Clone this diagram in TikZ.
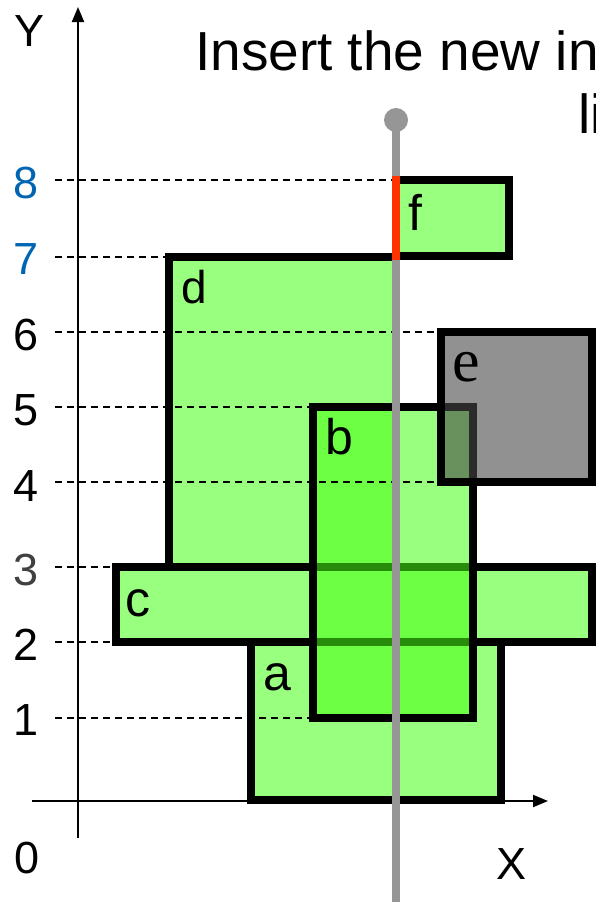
\documentclass[tikz,border=0pt]{standalone}
\usepackage{fontspec}
\setmainfont{Liberation Sans}
\newfontfamily\tagserif{Liberation Serif}
\usepackage{tikz}
\usetikzlibrary{positioning,calc,arrows.meta}
\usepackage{xcolor}
\definecolor{boxgreen}{RGB}{70,255,20}
\definecolor{boxgray}{RGB}{72,72,72}
\definecolor{scangray}{RGB}{150,150,150}
\definecolor{scanred}{RGB}{255,51,0}
\definecolor{tickblue}{RGB}{0,102,179}
\definecolor{tickdark}{RGB}{64,64,64}

\begin{document}
\begin{tikzpicture}[x=1pt, y=-1pt,
  region/.style={draw=black, line width=8pt, fill=boxgreen, fill opacity=0.55, draw opacity=1, outer sep=0pt, inner sep=0pt},
  shaded/.style={region, fill=boxgray, fill opacity=0.6},
  tag/.style={inner sep=0pt, font=\fontsize{50}{60}\selectfont},
  tick/.style={inner sep=0pt, font=\fontsize{45}{54}\selectfont},
  guide/.style={black, line width=2pt, dash pattern=on 7pt off 5pt},
  axis/.style={black, line width=2pt, -{Triangle[length=15pt,width=12pt]}},
  scan/.style={scangray, line width=8pt}]
\useasboundingbox (0,0) rectangle (596,902);
\clip (0,0) rectangle (596,902);

% Title
\node[anchor=base west, inner sep=0pt, font=\fontsize{55}{66}\selectfont] (title) at (195,70) {Insert the new in};
\node[anchor=base west, inner sep=0pt, font=\fontsize{55}{66}\selectfont] (title2) at (578,133) {li};

% Axes
\coordinate (ybot) at (78,838);
\coordinate (ytop) at (78,7);
\coordinate (xleft) at (32,801);
\coordinate (xright) at (548,801);
\draw[axis] (ybot) -- (ytop);
\draw[axis] (xleft) -- (xright);
\node[tick] (ylab) at (30,31) {Y};
\node[tick] (xlab) at (512,864) {X};
\node[tick] (l0) at (27,858) {0};

% Intervals
\node[region, minimum width=250pt, minimum height=158pt] (a) at (376,721) {};
\node[region, minimum width=476pt, minimum height=75pt] (c) at (354,604.5) {};
\node[region, minimum width=227pt, minimum height=310pt] (d) at (282.5,412) {};
\node[region, minimum width=160pt, minimum height=311pt] (b) at (393,562.5) {};
\node[shaded, minimum width=151pt, minimum height=150pt] (e) at (516.5,407) {};
\node[region, minimum width=113pt, minimum height=76pt] (f) at (452.5,218) {};

% Interval names
\node[tag] (la) at ($(a.north west)+(26,35)$) {a};
\node[tag] (lb) at ($(b.north west)+(26,30)$) {b};
\node[tag] (lc) at ($(c.north west)+(22,36)$) {c};
\node[tag, font=\fontsize{46}{55}\selectfont] (ld) at ($(d.north west)+(25,30)$) {d};
\node[tag, font=\tagserif\fontsize{62}{70}\selectfont] (le) at ($(e.north west)+(25,35)$) {e};
\node[tag] (lf) at ($(f.north west)+(19,32)$) {f};

% Y values
\node[tick, tickblue] (l8) at (26,183) {8};
\node[tick, tickblue] (l7) at (26,259) {7};
\node[tick] (l6) at (26,335) {6};
\node[tick] (l5) at (26,410) {5};
\node[tick] (l4) at (26,486) {4};
\node[tick, tickdark] (l3) at (26,570) {3};
\node[tick] (l2) at (26,645) {2};
\node[tick] (l1) at (26,720) {1};

% Guide lines
\coordinate (guides) at (55,0);
\draw[guide] (guides |- f.north west) -- (f.north west);
\draw[guide] (guides |- d.north west) -- (d.north west);
\draw[guide] (guides |- e.north west) -- (e.north west);
\draw[guide] (guides |- b.north west) -- (b.north west);
\draw[guide] (guides |- e.south west) -- (e.south west);
\draw[guide] (guides |- c.north west) -- (c.north west);
\draw[guide] (guides |- c.south west) -- (c.south west);
\draw[guide] (guides |- b.south west) -- (b.south west);

% Scan line
\coordinate (stop) at (396,120);
\coordinate (sbot) at (396,902);
\draw[scan] (stop) -- (sbot);
\fill[scangray] (stop) circle (12pt);
\draw[scanred, line width=8pt, shorten <=-4pt, shorten >=-4pt] (f.north west) -- (f.south west);
\end{tikzpicture}
\end{document}
